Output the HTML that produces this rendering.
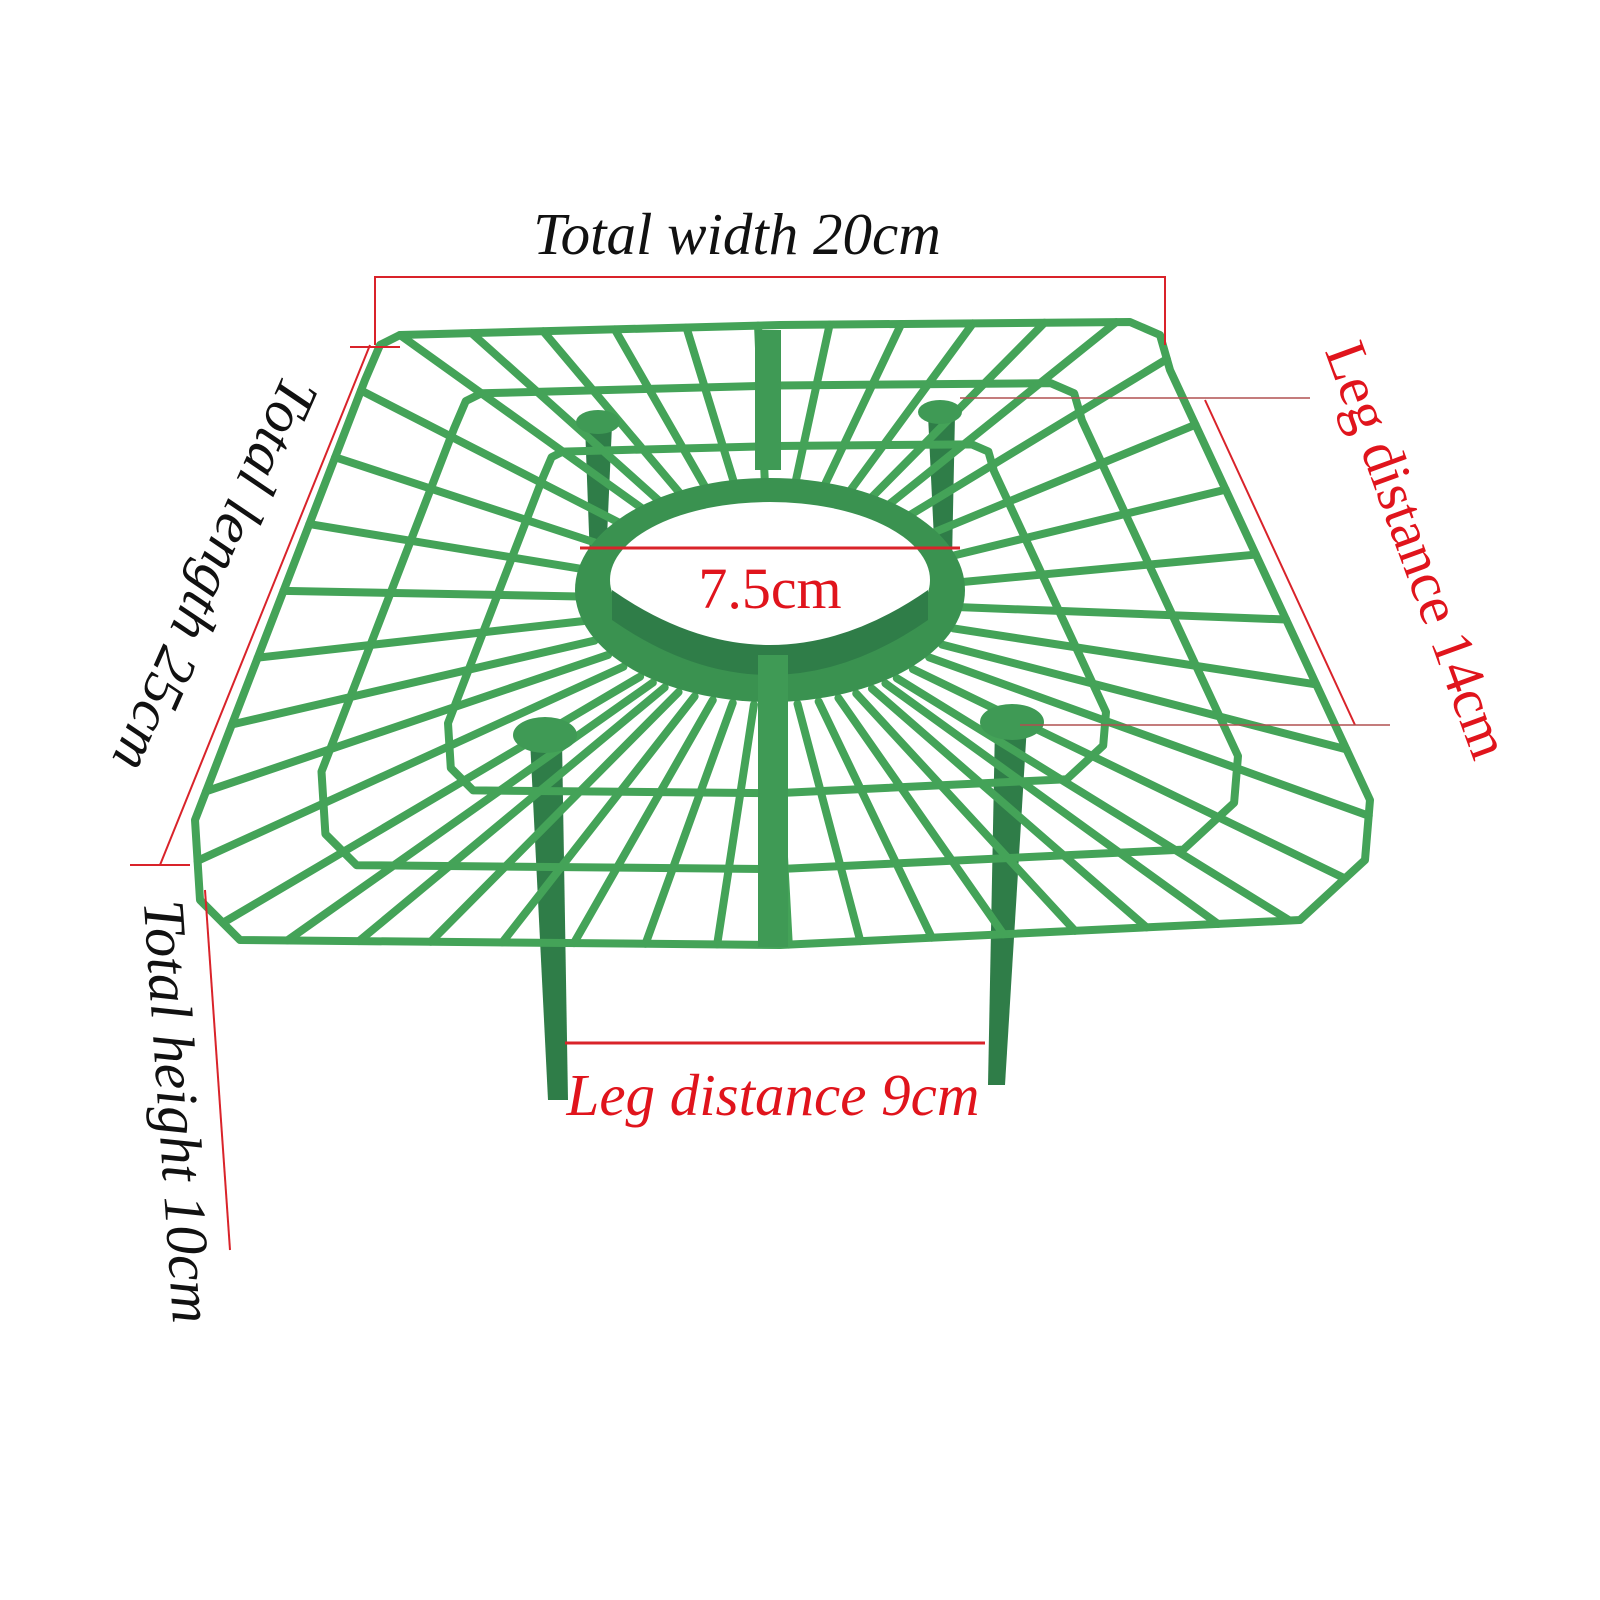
<!DOCTYPE html>
<html><head><meta charset="utf-8"><style>
html,body{margin:0;padding:0;background:#fff;width:1600px;height:1600px;overflow:hidden}
svg{display:block}
.t{font-family:"Liberation Serif",serif;font-style:italic;font-size:59px}
</style></head><body>
<svg id="s" width="1600" height="1600" viewBox="0 0 1600 1600" xmlns="http://www.w3.org/2000/svg">
<g id="legs" fill="#2f7d48">
<polygon points="530,740 562,740 568,1100 548,1100"/>
<polygon points="995,725 1027,725 1005,1085 988,1085"/>
<polygon points="585,425 612,425 606,560 590,560"/>
<polygon points="928,415 955,415 952,560 935,560"/>
</g>
<g id="grid" fill="none" stroke="#44a358" stroke-width="8" stroke-linejoin="round" stroke-linecap="round"></g>
<g id="ring">
<ellipse cx="770" cy="590" rx="195" ry="112" fill="#3a9250"/>
<ellipse cx="770" cy="580" rx="160" ry="78" fill="#fff"/>
<path d="M612,590 Q770,700 928,590 L928,620 Q770,730 612,620Z" fill="#2f7d48"/>
</g>
<g fill="#3f9a55">
<rect x="755" y="330" width="26" height="140"/>
<rect x="758" y="655" width="30" height="292"/>
<ellipse cx="545" cy="735" rx="32" ry="18"/>
<ellipse cx="1012" cy="722" rx="32" ry="18"/>
<ellipse cx="598" cy="422" rx="22" ry="12"/>
<ellipse cx="940" cy="412" rx="22" ry="12"/>
</g>
<g stroke="#d9232a" stroke-width="2" fill="none">
<polyline points="375,345 375,277 1165,277 1165,345"/>
<line x1="370" y1="345" x2="160" y2="865"/>
<line x1="350" y1="347" x2="400" y2="347"/>
<line x1="130" y1="865" x2="190" y2="865"/>
<line x1="205" y1="890" x2="230" y2="1250"/>
<line x1="1205" y1="400" x2="1355" y2="725"/>
<line x1="565" y1="1043" x2="985" y2="1043" stroke-width="3"/>
<line x1="580" y1="548" x2="960" y2="548" stroke-width="3"/>
</g>
<g stroke="#b05050" stroke-width="1.5">
<line x1="960" y1="398" x2="1310" y2="398"/>
<line x1="1020" y1="725" x2="1390" y2="725"/>
</g>
<text class="t" x="737" y="254" text-anchor="middle" fill="#111">Total width 20cm</text>
<text class="t" transform="translate(210,572) rotate(114)" text-anchor="middle" dominant-baseline="middle" fill="#111">Total length 25cm</text>
<text class="t" transform="translate(172,1112) rotate(86)" text-anchor="middle" dominant-baseline="middle" fill="#111">Total height 10cm</text>
<text transform="translate(1412,552) rotate(70)" text-anchor="middle" dominant-baseline="middle" fill="#e0141c" style="font-family:'Liberation Serif',serif;font-size:58px">Leg distance 14cm</text>
<text class="t" x="773" y="1115" text-anchor="middle" fill="#e0141c">Leg distance 9cm</text>
<text x="770" y="608" text-anchor="middle" fill="#e0141c" style="font-family:'Liberation Serif',serif;font-size:58px">7.5cm</text>
</svg>
<script>
(function(){
var B=[[400,335],[780,325],[1130,322],[1160,335],[1170,370],[1370,800],[1365,860],[1300,920],[780,945],[240,940],[200,900],[195,820],[365,380],[380,345],[400,335]];
var L=[],tot=0;for(var i=1;i<B.length;i++){var d=Math.hypot(B[i][0]-B[i-1][0],B[i][1]-B[i-1][1]);L.push(d);tot+=d;}
function at(t){var s=t*tot;for(var i=0;i<L.length;i++){if(s<=L[i]){var f=s/L[i];return[B[i][0]+f*(B[i+1][0]-B[i][0]),B[i][1]+f*(B[i+1][1]-B[i][1])];}s-=L[i];}return B[0];}
var g=document.getElementById('grid'),ns='http://www.w3.org/2000/svg',C=[770,600];
function path(d){var p=document.createElementNS(ns,'path');p.setAttribute('d',d);g.appendChild(p);}
var sc=[1,0.78,0.56];
sc.forEach(function(k){var d='M';B.forEach(function(p,i){d+=(i?' L':'')+(C[0]+k*(p[0]-C[0]))+','+(C[1]+k*(p[1]-C[1]));});path(d+'Z');});
var N=44;for(var i=0;i<N;i++){var P=at(i/N),dx=P[0]-C[0],dy=P[1]-C[1];var k=1/Math.sqrt(Math.pow(dx/190,2)+Math.pow(dy/105,2));path('M'+(C[0]+k*dx)+','+(C[1]+k*dy)+' L'+P[0]+','+P[1]);}
})();
</script>
</body></html>
